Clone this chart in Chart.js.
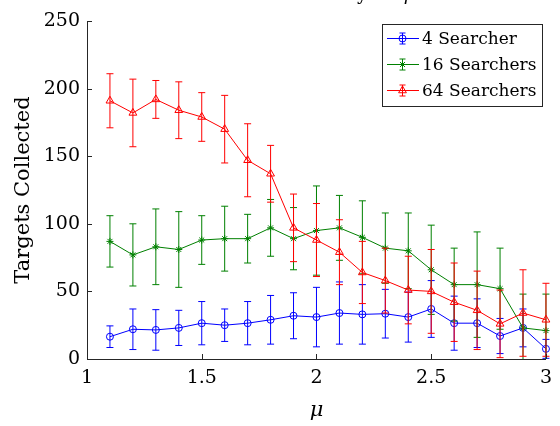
<!DOCTYPE html>
<html>
<head>
<meta charset="utf-8">
<script src="https://cdn.jsdelivr.net/npm/chart.js@4/dist/chart.umd.min.js"></script>
<style>
  html, body { margin: 0; padding: 0; background: #ffffff; }
  #wrap { width: 560px; height: 426px; }
</style>
</head>
<body>
<div id="wrap"><canvas id="c" width="560" height="426"></canvas></div>
<script>
// Mean number of targets collected (with ± spread) for each swarm size, by Lévy exponent mu
const muValues = [1.1, 1.2, 1.3, 1.4, 1.5, 1.6, 1.7, 1.8, 1.9, 2.0, 2.1, 2.2, 2.3, 2.4, 2.5, 2.6, 2.7, 2.8, 2.9, 3.0];

const searchers4Mean = [16.5, 22, 21.5, 23, 26.5, 25, 26.5, 29, 32, 31, 34, 33, 33.5, 31, 37, 26.5, 26.5, 17, 23, 7.5];
const searchers4Err  = [8, 15, 15, 13, 16, 12, 16, 18, 17, 22, 23, 22, 18, 18.5, 21, 20, 18, 13, 14, 7];

const searchers16Mean = [87, 77, 83, 81, 88, 89, 89, 97, 89, 95, 97, 90, 82, 80, 66, 55, 55, 52, 23, 21];
const searchers16Err  = [19, 23, 28, 28, 18, 24, 18, 21, 23, 33, 24, 27, 26, 28, 33, 27, 39, 30, 25, 27];

const searchers64Mean = [191, 182, 192, 184, 179, 170, 147, 137, 97, 88, 79, 64, 58, 51, 50, 42, 36, 26, 34, 29];
const searchers64Err  = [20, 25, 14, 21, 18, 25, 27, 21, 25, 27, 24, 23, 24, 25, 31, 29, 29, 25, 32, 27];

const seriesLabels = ['4 Searcher', '16 Searchers', '64 Searchers'];

const xTickValues = [1, 1.5, 2, 2.5, 3];
const xTickLabels = ['1', '1.5', '2', '2.5', '3'];
const yTickValues = [0, 50, 100, 150, 200, 250];
const yTickLabels = ['0', '50', '100', '150', '200', '250'];

const SERIF = '"DejaVu Serif", "Liberation Serif", serif';
const AXIS_COLOR = '#262626';

function seriesPoints(means) {
  return muValues.map((m, i) => ({ x: m, y: means[i] }));
}

// vertical error bars, drawn just before each series' own line and markers
const errorBarPlugin = {
  id: 'errorBars',
  beforeDatasetDraw(chart, args) {
    const ds = chart.data.datasets[args.index];
    if (!ds.errors) return;
    const xs = chart.scales.x, ys = chart.scales.y;
    const area = chart.chartArea;
    const ctx = chart.ctx;
    ctx.save();
    ctx.beginPath();
    ctx.rect(area.left - 10, area.top, area.right - area.left + 20, area.bottom - area.top);
    ctx.clip();
    ctx.strokeStyle = ds.borderColor;
    ctx.lineWidth = 1;
    const cap = 3.5;
    ds.data.forEach((p, i) => {
      const e = ds.errors[i];
      const px = xs.getPixelForValue(p.x);
      const top = ys.getPixelForValue(p.y + e);
      const bot = ys.getPixelForValue(p.y - e);
      ctx.beginPath();
      ctx.moveTo(px, top); ctx.lineTo(px, bot);
      ctx.moveTo(px - cap, top); ctx.lineTo(px + cap, top);
      ctx.moveTo(px - cap, bot); ctx.lineTo(px + cap, bot);
      ctx.stroke();
    });
    ctx.restore();
  }
};

// white page, inward tick marks, clipped title, boxed legend
const decorPlugin = {
  id: 'decor',
  beforeDraw(chart) {
    const ctx = chart.ctx;
    ctx.save();
    ctx.fillStyle = '#ffffff';
    ctx.fillRect(0, 0, chart.width, chart.height);
    ctx.restore();
  },
  afterDatasetsDraw(chart) {
    const ctx = chart.ctx;
    const xs = chart.scales.x, ys = chart.scales.y;
    const area = chart.chartArea;
    const len = 5;
    ctx.save();
    ctx.strokeStyle = AXIS_COLOR;
    ctx.lineWidth = 1;
    ctx.beginPath();
    xTickValues.forEach(v => {
      const px = Math.round(xs.getPixelForValue(v)) + 0.5;
      ctx.moveTo(px, area.bottom);
      ctx.lineTo(px, area.bottom - len);
    });
    yTickValues.forEach(v => {
      const py = Math.round(ys.getPixelForValue(v)) + 0.5;
      ctx.moveTo(area.left, py);
      ctx.lineTo(area.left + len, py);
    });
    ctx.stroke();
    ctx.restore();
  },
  afterDraw(chart) {
    const ctx = chart.ctx;
    const area = chart.chartArea;

    // title sits above the canvas edge
    ctx.save();
    ctx.fillStyle = '#000000';
    ctx.textBaseline = 'alphabetic';
    const main = 'Search Efficiency vs. ';
    ctx.font = '18px ' + SERIF;
    const wMain = ctx.measureText(main).width;
    ctx.font = 'italic 18px ' + SERIF;
    const wMu = ctx.measureText('\u03bc').width;
    const cx = (area.left + area.right) / 2 - 5;
    let tx = cx - (wMain + wMu) / 2;
    ctx.font = '18px ' + SERIF;
    ctx.textAlign = 'left';
    ctx.fillText(main, tx, 0);
    ctx.font = 'italic 18px ' + SERIF;
    ctx.fillText('\u03bc', tx + wMain, 0);
    ctx.restore();

    // legend
    const box = { x: 382.5, y: 24.5, w: 160, h: 82 };
    ctx.save();
    ctx.fillStyle = '#ffffff';
    ctx.fillRect(box.x, box.y, box.w, box.h);
    ctx.strokeStyle = AXIS_COLOR;
    ctx.lineWidth = 1;
    ctx.strokeRect(box.x, box.y, box.w, box.h);
    const rowY = [38.5, 64.5, 90.5];
    chart.data.datasets.forEach((ds, i) => {
      const y = rowY[i];
      const x0 = 387, x1 = 419, xm = 402.5;
      ctx.strokeStyle = ds.borderColor;
      ctx.lineWidth = 1;
      ctx.beginPath();
      ctx.moveTo(x0, y); ctx.lineTo(x1, y);
      ctx.moveTo(xm, y - 5.5); ctx.lineTo(xm, y + 5.5);
      ctx.moveTo(xm - 3, y - 5.5); ctx.lineTo(xm + 3, y - 5.5);
      ctx.moveTo(xm - 3, y + 5.5); ctx.lineTo(xm + 3, y + 5.5);
      ctx.stroke();
      ctx.fillStyle = ds.pointBackgroundColor;
      Chart.helpers.drawPoint(ctx, {
        pointStyle: ds.pointStyle, radius: ds.pointRadius,
        borderWidth: ds.pointBorderWidth, rotation: 0
      }, xm, y);
      ctx.fillStyle = '#000000';
      ctx.font = '17px ' + SERIF;
      ctx.textAlign = 'left';
      ctx.textBaseline = 'middle';
      ctx.fillText(ds.label, 422, y + 1);
    });
    ctx.restore();
  }
};

function makeSeries(label, means, errs, color, style, radius, order) {
  return {
    label: label,
    data: seriesPoints(means),
    errors: errs,
    borderColor: color,
    backgroundColor: 'rgba(0,0,0,0)',
    pointBackgroundColor: 'rgba(0,0,0,0)',
    pointBorderColor: color,
    pointStyle: style,
    pointRadius: radius,
    pointBorderWidth: 1,
    borderWidth: 1,
    tension: 0,
    fill: false,
    order: order,
    clip: { left: 10, right: 10, top: 0, bottom: 0 }
  };
}

new Chart(document.getElementById('c'), {
  type: 'line',
  data: {
    datasets: [
      makeSeries(seriesLabels[0], searchers4Mean, searchers4Err, '#0000ff', 'circle', 3.5, 2),
      makeSeries(seriesLabels[1], searchers16Mean, searchers16Err, '#008000', 'star', 3.5, 1),
      makeSeries(seriesLabels[2], searchers64Mean, searchers64Err, '#ff0000', 'triangle', 4.5, 0)
    ]
  },
  options: {
    responsive: false,
    animation: false,
    devicePixelRatio: 1,
    layout: { padding: { top: 21, right: 7, left: 0, bottom: 0 } },
    plugins: {
      legend: { display: false },
      tooltip: { enabled: false },
      title: { display: false }
    },
    scales: {
      x: {
        type: 'linear',
        min: 1, max: 3,
        afterFit(scale) { scale.height = 67; },
        afterBuildTicks(scale) { scale.ticks = xTickValues.map(v => ({ value: v })); },
        ticks: {
          autoSkip: false,
          maxRotation: 0,
          padding: 8,
          color: '#000000',
          font: { family: SERIF, size: 19 },
          callback: (v, i) => xTickLabels[i]
        },
        grid: { display: false, drawTicks: false },
        border: { display: true, color: AXIS_COLOR, width: 1 },
        title: {
          display: true,
          text: '\u03bc',
          color: '#000000',
          font: { family: SERIF, size: 21, style: 'italic' },
          padding: { top: 0, bottom: 3 }
        }
      },
      y: {
        type: 'linear',
        min: 0, max: 250,
        afterFit(scale) { scale.width = 87; },
        afterBuildTicks(scale) { scale.ticks = yTickValues.map(v => ({ value: v })); },
        ticks: {
          autoSkip: false,
          padding: 7,
          color: '#000000',
          font: { family: SERIF, size: 19 },
          callback: (v, i) => yTickLabels[i]
        },
        grid: { display: false, drawTicks: false },
        border: { display: true, color: AXIS_COLOR, width: 1 },
        title: {
          display: true,
          text: 'Targets Collected',
          color: '#000000',
          font: { family: SERIF, size: 21 },
          padding: { top: 11, bottom: 0 }
        }
      }
    }
  },
  plugins: [errorBarPlugin, decorPlugin]
});
</script>
</body>
</html>
